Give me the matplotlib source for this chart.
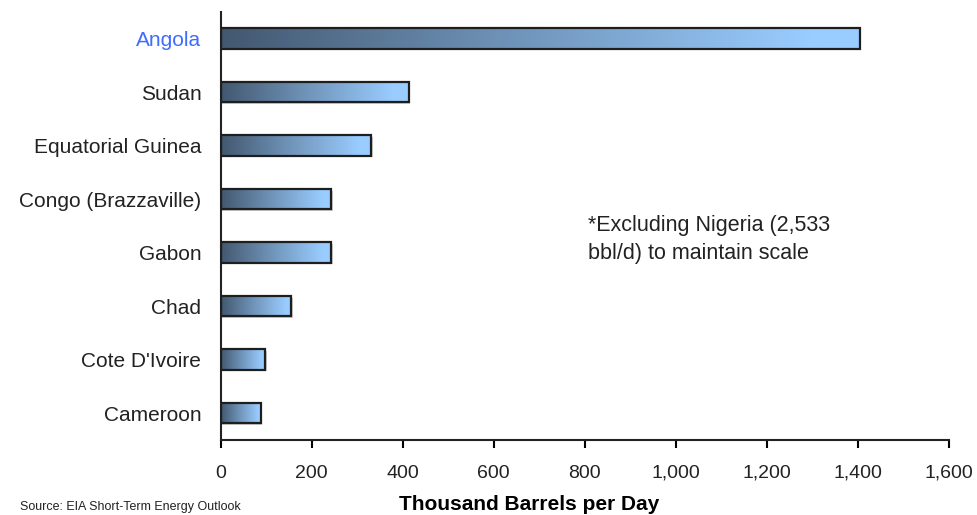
import matplotlib
matplotlib.use('Agg')
import matplotlib.pyplot as plt
import numpy as np
from matplotlib.colors import LinearSegmentedColormap
from matplotlib.patches import Rectangle
from matplotlib.ticker import FuncFormatter

plt.rcParams['font.family'] = ['Liberation Sans', 'DejaVu Sans']

# oil production, thousand barrels per day
countries = ['Angola', 'Sudan', 'Equatorial Guinea', 'Congo (Brazzaville)',
             'Gabon', 'Chad', "Cote D'Ivoire", 'Cameroon']
production = [1405, 413, 331, 243, 243, 155, 98, 88]

bar_cmap = LinearSegmentedColormap.from_list(
    'bars', [(0, '#435870'), (0.45, '#6f93b8'), (0.92, '#99ccff'), (1, '#99ccff')])

fig = plt.figure(figsize=(9.77, 5.15), dpi=100)
ax = fig.add_axes([0.226, 0.146, 0.745, 0.831])

n = len(countries)
ypos = np.arange(n)[::-1]
bar_h = 0.38
grad = np.linspace(0, 1, 256).reshape(1, -1)

for y, v in zip(ypos, production):
    # soft shadow
    ax.add_patch(Rectangle((3, y - bar_h / 2 - 0.03), v, bar_h,
                           facecolor='#cccccc', edgecolor='none', zorder=1))
    ax.imshow(grad, cmap=bar_cmap, aspect='auto', interpolation='bilinear',
              extent=(0, v, y - bar_h / 2, y + bar_h / 2), zorder=2)
    ax.add_patch(Rectangle((0, y - bar_h / 2), v, bar_h, facecolor='none',
                           edgecolor='#1e1e1e', linewidth=1.6, zorder=3))

ax.set_xlim(0, 1600)
ax.set_ylim(-0.5, n - 0.5)
ax.set_yticks(ypos)
ax.set_yticklabels(countries, fontsize=15, color='#222222')
ax.get_yticklabels()[0].set_color('#3d6cff')
ax.tick_params(axis='y', length=0, pad=14)
ax.set_xticks(np.arange(0, 1601, 200))
ax.xaxis.set_major_formatter(FuncFormatter(lambda x, p: f'{int(x):,}'))
ax.tick_params(axis='x', direction='out', length=6, width=1.5, labelsize=14,
               pad=12, labelcolor='#222222')

for s in ['top', 'right']:
    ax.spines[s].set_visible(False)
for s in ['left', 'bottom']:
    ax.spines[s].set_linewidth(1.5)
    ax.spines[s].set_color('#222222')

ax.set_xlabel('Thousand Barrels per Day', fontsize=15, fontweight='bold', labelpad=10)
ax.xaxis.set_label_coords(0.424, -0.13)

ax.text(0.504, 0.525, '*Excluding Nigeria (2,533\nbbl/d) to maintain scale',
        transform=ax.transAxes, fontsize=15.5, va='top', ha='left', linespacing=1.4,
        color='#222222')

fig.text(0.02, 0.003, 'Source: EIA Short-Term Energy Outlook', fontsize=9,
         ha='left', va='bottom', color='#222222')

fig.savefig('out.png', dpi=100)
